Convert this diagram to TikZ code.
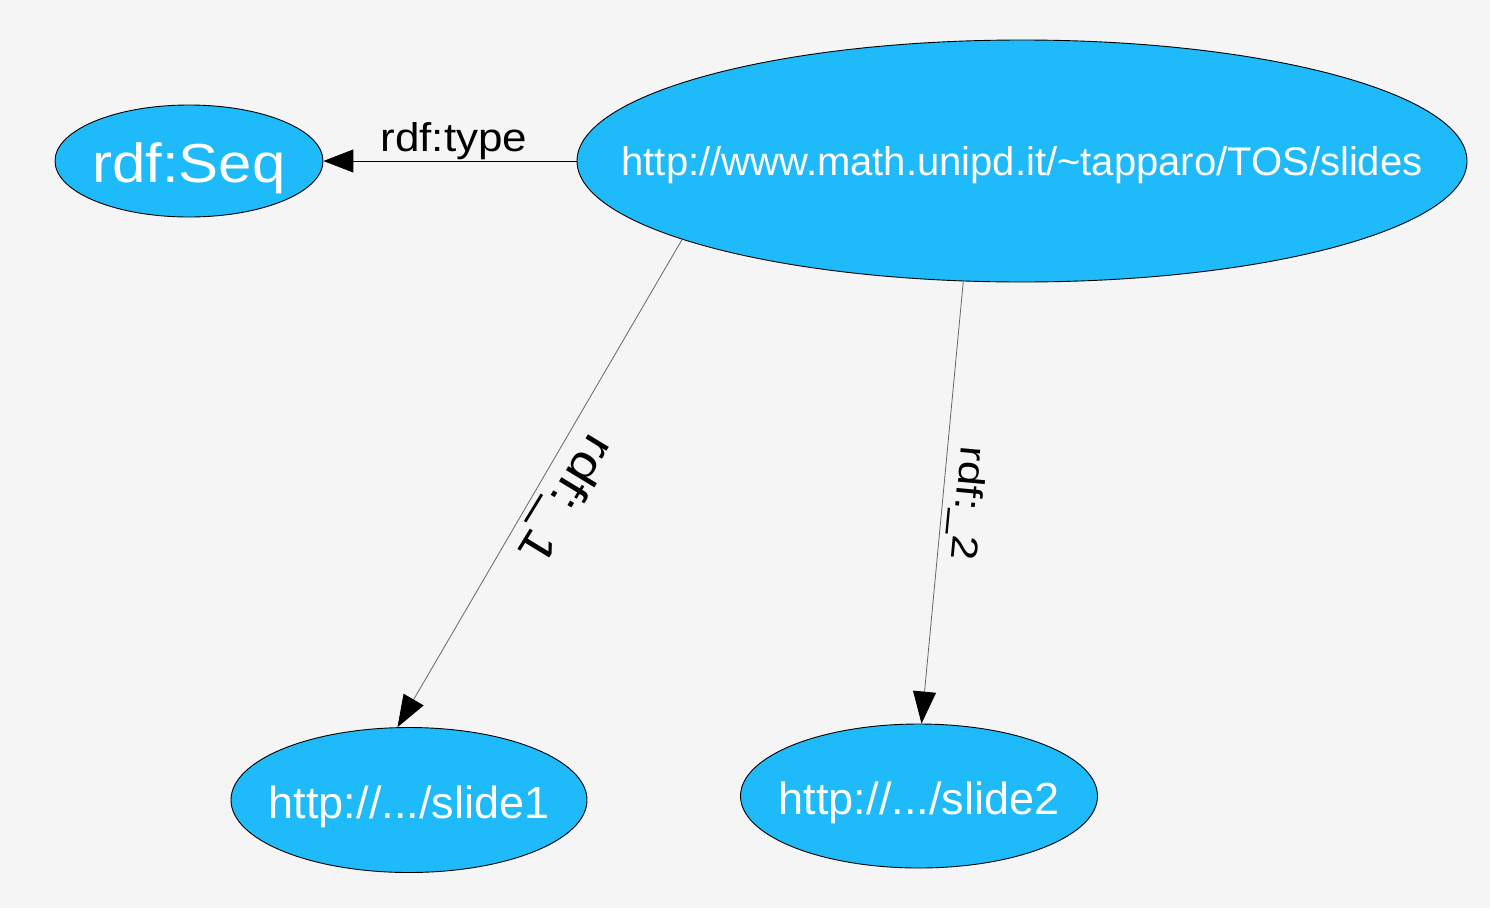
\documentclass[tikz,border=0pt]{standalone}
\usepackage{fontspec}
\setmainfont{Liberation Sans}
\usetikzlibrary{shapes.geometric,arrows.meta}
\definecolor{nodeblue}{HTML}{1FBAF9}
\definecolor{bggray}{HTML}{F5F5F5}
\tikzset{
  res/.style={ellipse, draw=black, line width=0.9pt, fill=nodeblue, text=white, inner sep=0pt, text depth=0pt},
  edgeline/.style={draw=black!60, line width=0.8pt, -{Triangle[length=32pt,width=23pt,color=black]}},
  typeline/.style={draw=black, line width=1pt, -{Triangle[length=30pt,width=23pt]}},
  elabel/.style={text=black, inner sep=0pt}
}
\newcommand{\zw}[1]{\makebox[0pt]{#1}}
\newcommand{\wide}[2]{\scalebox{#1}[1]{#2}}
\begin{document}
\begin{tikzpicture}[x=1pt,y=-1pt]
\fill[bggray] (0,0) rectangle (1490,908);
\useasboundingbox (0,0) rectangle (1490,908);
\node[res, minimum width=268pt, minimum height=112pt, text height=42pt, font=\fontsize{55}{55}\selectfont] (seq) at (189,161) {\zw{\wide{1.09}{rdf:Seq}}};
\node[res, minimum width=890pt, minimum height=242pt, text height=28pt, font=\fontsize{40}{40}\selectfont] (main) at (1022,161) {\zw{http://www.math.unipd.it/\textasciitilde tapparo/TOS/slides}};
\node[res, minimum width=356pt, minimum height=145pt, text height=36pt, font=\fontsize{45}{45}\selectfont] (s1) at (409,800) {\zw{http://.../slide1}};
\node[res, minimum width=357pt, minimum height=144pt, text height=36pt, font=\fontsize{45}{45}\selectfont] (s2) at (919,796) {\zw{http://.../slide2}};
\draw[typeline] (main.west) -- (seq.east);
\draw[edgeline] (main.193.5) -- (s1.99);
\draw[edgeline] (main.244) -- (s2.88);
\node[elabel, font=\fontsize{40}{40}\selectfont] (ltype) at (454,141) {\wide{1.1}{rdf:type}};
\node[elabel, font=\fontsize{46}{46}\selectfont, rotate=-121.4] (l1) at (564,498) {\wide{1.2}{rdf:\_1}};
\node[elabel, font=\fontsize{37}{37}\selectfont, rotate=-95.3] (l2) at (966,503) {\wide{1.2}{rdf:\_2}};
\end{tikzpicture}
\end{document}
